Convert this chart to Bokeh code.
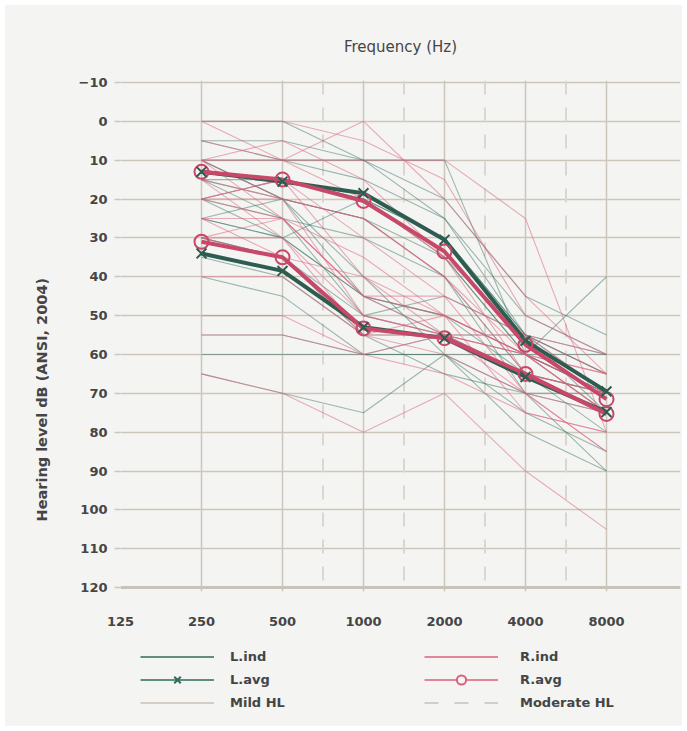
import math
from bokeh.plotting import figure
from bokeh.layouts import column
from bokeh.models import (Range1d, FixedTicker, Span, Title, Legend, LegendItem)
from bokeh.embed import file_html
from bokeh.resources import INLINE

# ---------------- data ----------------
tick_freqs = [125, 250, 500, 1000, 2000, 4000, 8000]
tick_labels = ["125", "250", "500", "1000", "2000", "4000", "8000"]
freqs = [250, 500, 1000, 2000, 4000, 8000]
db_ticks = [-10, 0, 10, 20, 30, 40, 50, 60, 70, 80, 90, 100, 110, 120]

# individual thresholds (dB HL) at 250..8000 Hz
mild_L = [
    [0, 0, 10, 25, 55, 70],
    [5, 5, 10, 20, 45, 55],
    [10, 20, 25, 35, 60, 75],
    [15, 15, 20, 30, 55, 65],
    [20, 25, 30, 40, 65, 80],
    [25, 30, 20, 35, 60, 70],
    [10, 10, 10, 10, 60, 40],
    [5, 10, 15, 25, 50, 60],
    [15, 20, 25, 40, 70, 90],
    [20, 15, 20, 30, 55, 75],
]
mild_R = [
    [0, 10, 0, 20, 45, 65],
    [0, 0, 5, 15, 50, 60],
    [10, 10, 10, 10, 25, 80],
    [15, 20, 25, 40, 65, 75],
    [20, 15, 30, 45, 70, 85],
    [30, 25, 35, 50, 60, 70],
    [10, 5, 15, 35, 55, 65],
    [20, 20, 25, 40, 60, 75],
    [5, 10, 20, 35, 65, 70],
    [25, 35, 40, 50, 75, 80],
]
mod_L = [
    [30, 35, 50, 55, 65, 70],
    [40, 45, 60, 60, 75, 85],
    [25, 30, 45, 50, 60, 70],
    [55, 55, 60, 55, 65, 70],
    [60, 60, 60, 60, 80, 90],
    [65, 70, 75, 60, 70, 75],
    [35, 40, 55, 55, 60, 60],
    [15, 25, 50, 45, 55, 65],
    [20, 30, 45, 50, 65, 75],
    [25, 20, 40, 60, 60, 70],
    [30, 35, 55, 65, 70, 70],
    [10, 20, 45, 55, 55, 60],
]
mod_R = [
    [30, 30, 50, 55, 65, 75],
    [40, 40, 55, 60, 70, 85],
    [50, 50, 60, 55, 65, 70],
    [20, 25, 45, 50, 60, 75],
    [55, 55, 60, 65, 75, 80],
    [65, 70, 80, 70, 90, 105],
    [10, 20, 50, 55, 60, 65],
    [25, 25, 45, 45, 55, 70],
    [15, 30, 55, 55, 70, 75],
    [30, 35, 55, 50, 60, 70],
    [20, 15, 40, 55, 55, 60],
    [10, 25, 45, 55, 60, 65],
]

# group averages
mild_L_avg = [13, 15.5, 18.5, 30.5, 56.5, 69.5]
mild_R_avg = [13, 15, 20.5, 33.5, 57.5, 71.5]
mod_L_avg = [34, 38.5, 53, 55.8, 65.8, 74.8]
mod_R_avg = [31, 35, 53.3, 55.8, 65, 75.3]

legend_left = ["L.ind", "L.avg", "Mild HL"]
legend_right = ["R.ind", "R.avg", "Moderate HL"]

# ---------------- style ----------------
BG = "#f4f4f2"
GRID = "#cdc6bd"
DASH = "#dbd6d0"
TXT = "#454545"
GREEN = "#2d5c50"
GREEN_IND = "#2f6b5b"
PINK = "#c8486a"
PINK_IND = "#de5f7d"
FONT = "DejaVu Sans"

p = figure(width=677, height=635, x_axis_type="log",
           x_range=Range1d(125, 125 * 2 ** (560 / 81)),
           y_range=Range1d(121, -10.5),
           output_backend="svg", toolbar_location=None,
           min_border_left=115, min_border_right=2,
           min_border_top=75, min_border_bottom=49)
p.background_fill_color = BG
p.border_fill_color = BG
p.outline_line_color = None

# title on top
p.title.text = "Frequency (Hz)"
p.title.align = "center"
p.title.text_font = FONT
p.title.text_font_style = "normal"
p.title.text_font_size = "15px"
p.title.text_color = TXT
p.title.standoff = 50

# y title on left
ytitle = Title(text="Hearing level dB (ANSI, 2004)", align="left", offset=70,
               standoff=51, text_font=FONT, text_font_style="bold",
               text_font_size="14.5px", text_color=TXT)
p.add_layout(ytitle, "left")

# axes
p.xaxis.ticker = FixedTicker(ticks=tick_freqs)
p.xaxis.major_label_overrides = {f: l for f, l in zip(tick_freqs, tick_labels)}
p.xaxis.axis_line_color = None
p.xaxis.major_tick_line_color = None
p.xaxis.minor_tick_line_color = None
p.xaxis.major_label_standoff = 19
p.yaxis.ticker = FixedTicker(ticks=db_ticks)
p.yaxis.axis_line_color = None
p.yaxis.major_tick_out = 6
p.yaxis.major_tick_in = 0
p.yaxis.major_tick_line_color = GRID
p.yaxis.major_tick_line_width = 1.5
p.yaxis.minor_tick_line_color = None
p.yaxis.major_label_standoff = 7
for ax in (p.xaxis, p.yaxis):
    ax.major_label_text_font = FONT
    ax.major_label_text_font_style = "bold"
    ax.major_label_text_font_size = "13px"
    ax.major_label_text_color = TXT

p.xgrid.ticker = FixedTicker(ticks=tick_freqs)
p.ygrid.ticker = FixedTicker(ticks=db_ticks)
for g in (p.xgrid, p.ygrid):
    g.grid_line_color = GRID
    g.grid_line_width = 1.5

# inter-octave dashed lines
for a, b in zip(freqs[1:-1], freqs[2:]):
    p.add_layout(Span(location=math.sqrt(a * b), dimension="height",
                      line_color=DASH, line_width=2, line_dash="14 13",
                      level="underlay"))
p.add_layout(Span(location=120, dimension="width", line_color="#c9c2b9",
                  line_width=3, level="underlay"))

# individual lines
for grp in (mild_L, mod_L):
    p.multi_line([freqs] * len(grp), grp, line_color=GREEN_IND,
                 line_alpha=0.45, line_width=1.1)
for grp in (mild_R, mod_R):
    p.multi_line([freqs] * len(grp), grp, line_color=PINK_IND,
                 line_alpha=0.5, line_width=1.1)

# averages
for avg in (mild_L_avg, mod_L_avg):
    p.line(freqs, avg, line_color=GREEN, line_width=4)
for avg in (mild_R_avg, mod_R_avg):
    p.line(freqs, avg, line_color=PINK, line_width=4)
for avg in (mild_R_avg, mod_R_avg):
    p.scatter(freqs, avg, marker="circle", size=14, fill_color=None,
              line_color=PINK, line_width=2)
for avg in (mild_L_avg, mod_L_avg):
    p.scatter(freqs, avg, marker="x", size=14, line_color=GREEN, line_width=2)

# ---------------- legend figure ----------------
q = figure(width=677, height=86, x_range=Range1d(0, 1), y_range=Range1d(0, 1),
           output_backend="svg", toolbar_location=None,
           x_axis_location=None, y_axis_location=None,
           min_border=0, min_border_left=0, min_border_right=0,
           min_border_top=0, min_border_bottom=0)
q.background_fill_color = BG
q.border_fill_color = BG
q.outline_line_color = None
q.grid.visible = False

# off-range placeholder points so legend glyphs are drawn
ox, oy = [5, 6], [5, 6]
r_lind = q.line(ox, oy, line_color=GREEN_IND, line_width=1.5)
r_lavg = q.line(ox, oy, line_color=GREEN_IND, line_width=1.5)
r_lavg_m = q.scatter(ox, oy, marker="x", line_color=GREEN_IND, line_width=2)
r_mild = q.line(ox, oy, line_color="#d3cdc5", line_width=2)
r_rind = q.line(ox, oy, line_color=PINK_IND, line_width=1.5)
r_ravg = q.line(ox, oy, line_color=PINK_IND, line_width=1.5)
r_ravg_m = q.scatter(ox, oy, marker="circle", fill_color=BG,
                     line_color=PINK_IND, line_width=2)
r_mod = q.line(ox, oy, line_color="#d3cdc5", line_width=2, line_dash="14 16")


def make_legend(labels, rends, loc, standoff):
    lg = Legend(items=[LegendItem(label=l, renderers=r) for l, r in zip(labels, rends)],
                location=loc, orientation="vertical")
    lg.border_line_color = None
    lg.background_fill_alpha = 0
    lg.padding = 0
    lg.margin = 0
    lg.spacing = 0
    lg.glyph_width = 74
    lg.glyph_height = 23
    lg.label_height = 23
    lg.label_standoff = standoff
    lg.label_width = 100
    lg.label_text_font = FONT
    lg.label_text_font_style = "bold"
    lg.label_text_font_size = "13px"
    lg.label_text_color = TXT
    return lg


q.add_layout(make_legend(legend_left, [[r_lind], [r_lavg, r_lavg_m], [r_mild]], (20, 12), 16), "center")
q.add_layout(make_legend(legend_right, [[r_rind], [r_ravg, r_ravg_m], [r_mod]], (304, 12), 22), "center")

layout = column(p, q, spacing=0)
layout.margin = (5, 5, 5, 5)
layout.background = BG

open("out.html", "w").write(file_html(layout, INLINE))
